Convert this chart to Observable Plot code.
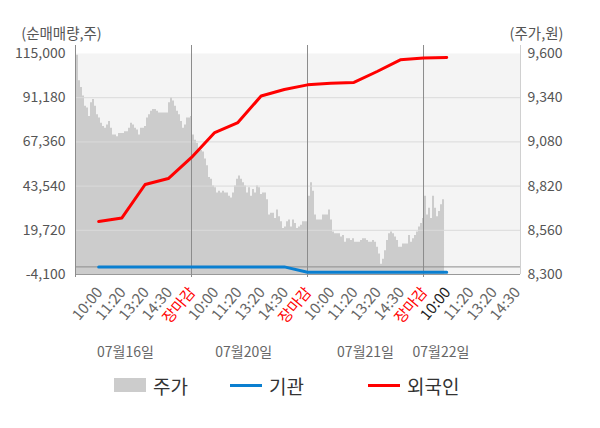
<!DOCTYPE html>
<html><head><meta charset="utf-8">
<script src="https://cdn.jsdelivr.net/npm/d3@7"></script>
<script src="https://cdn.jsdelivr.net/npm/@observablehq/plot@0.6"></script>
<style>
body{margin:0;background:#fff;font-family:"Noto Sans CJK KR","Noto Sans",sans-serif;}
#chart{width:600px;height:362px;}
#legend{position:relative;width:600px;height:66px;font-size:19px;color:#333;}
.item{position:absolute;top:12px;height:22px;display:flex;align-items:center;}
.sw{display:inline-block;margin-right:7px;}
</style></head><body>
<div id="chart"></div>
<div id="legend"></div>
<script>
const dayLabels = ["07월16일","07월20일","07월21일","07월22일"];
const slotLabels = ["10:00","11:20","13:20","14:30","장마감"];
const price16 = [9590,9440,9400,9350,9290,9280,9230,9310,9330,9290,9240,9220,9190,9170,9160,9180,9200,9160,9120,9120,9110,9130,9130,9130,9140,9140,9160,9190,9180,9160,9150,9120,9160,9160,9170,9220,9240,9260,9270,9270,9260,9250,9250,9250,9250,9250,9310,9340,9320,9290,9260,9240,9200,9160,9180,9220,9220,9230];
const price20 = [9120,9090,9070,9030,9030,9020,8980,8940,8870,8860,8820,8810,8780,8790,8780,8790,8780,8780,8760,8750,8780,8820,8860,8880,8860,8840,8820,8780,8810,8760,8800,8780,8820,8810,8770,8780,8780,8740,8650,8660,8660,8630,8680,8640,8610,8570,8580,8610,8620,8580,8620,8600,8570,8580,8590,8610,8610,8610];
const price21 = [8760,8840,8790,8650,8620,8620,8620,8650,8650,8650,8680,8620,8550,8540,8540,8540,8520,8530,8490,8510,8510,8500,8510,8490,8490,8490,8500,8510,8510,8500,8490,8490,8500,8490,8460,8420,8360,8390,8440,8500,8540,8550,8540,8520,8500,8460,8460,8480,8480,8480,8530,8490,8510,8530,8550,8580,8600,8630];
const price22 = [8760,8650,8690,8630,8760,8690,8640,8670,8710,8740,8740];
const foreignNet = [24500,26400,44400,47600,59000,72400,77800,92100,95600,98100,99000,99400,105300,111600,112600,112800];
const instNet = [0,0,0,0,0,0,0,0,0,-2900,-2900,-2900,-2900,-2900,-2900,-2900];
const leftTicks = [115000,91180,67360,43540,19720,-4100];
const rightTicks = [9600,9340,9080,8820,8560,8300];

const yMin = -4100, yMax = 115000, pMin = 8300, pMax = 9600;
const toY = p => yMin + (p - pMin) * (yMax - yMin) / (pMax - pMin);
const toP = y => Math.round(pMin + (y - yMin) * (pMax - pMin) / (yMax - yMin));
const perDay = 58;
const priceRows = [price16, price20, price21, price22].flatMap((arr, d) =>
  arr.map((p, i) => ({x: d + (i + 0.5) / perDay, y: toY(p)})));
const slotX = j => Math.floor(j / 5) + (j % 5 + 1) / 5;
const foreignRows = foreignNet.map((v, j) => ({x: slotX(j), y: v}));
const instRows = instNet.map((v, j) => ({x: slotX(j), y: v}));
const tickRows = [];
dayLabels.forEach((_, d) => slotLabels.forEach((lab, k) => {
  if (d === 3 && k === 4) return;
  tickRows.push({x: d + (k + 1) / 5, label: lab,
    color: k === 4 ? "#ff0000" : (d === 3 && k === 0 ? "#222222" : "#666666")});
}));
const datePos = [0.43, 1.45, 2.5, 3.15];
const xMax = 3.836;

const chart = Plot.plot({
  width: 600, height: 362,
  marginLeft: 75, marginRight: 80, marginTop: 53, marginBottom: 88,
  x: {domain: [0, xMax], axis: null},
  y: {domain: [yMin, yMax], axis: null},
  color: {type: "identity"},
  style: {fontFamily: '"Noto Sans CJK KR","Noto Sans",sans-serif', fontSize: "14px", background: "white", overflow: "visible"},
  marks: [
    Plot.frame({fill: "#f4f4f4", stroke: null}),
    Plot.areaY(priceRows, {x: "x", y1: () => yMin, y2: "y", fill: "#cccccc", curve: "step-after"}),
    Plot.ruleY(leftTicks.slice(1, 5), {stroke: "#dadada"}),
    Plot.ruleY([0], {stroke: "#8c8c8c"}),
    Plot.ruleY([yMin], {stroke: "#999999"}),
    Plot.ruleX([0, 1, 2, 3], {stroke: "#8c8c8c", insetTop: -8, insetBottom: -3}),
    Plot.ruleX([xMax], {stroke: "#d0d0d0", insetTop: -8}),
    Plot.line(instRows, {x: "x", y: "y", stroke: "#0a7fd0", strokeWidth: 3}),
    Plot.line(foreignRows, {x: "x", y: "y", stroke: "#ff0000", strokeWidth: 3}),
    Plot.axisY(leftTicks, {anchor: "left", tickSize: 0, tickPadding: 10, label: null, color: "#555", fontSize: 14,
      tickFormat: d => d.toLocaleString("en-US")}),
    Plot.axisY(leftTicks, {anchor: "right", tickSize: 0, tickPadding: 7, label: null, color: "#555", fontSize: 14,
      tickFormat: d => toP(d).toLocaleString("en-US")}),
    Plot.text(tickRows, {x: "x", y: () => yMin, text: "label", fill: "color", rotate: -50,
      textAnchor: "end", dx: 1, dy: 15, fontSize: 15}),
    Plot.text(dayLabels, {x: (d, i) => datePos[i], y: () => yMin, text: d => d, dy: 78, fill: "#666", fontSize: 14}),
    Plot.text(["(순매매량,주)"], {frameAnchor: "top-left", text: d => d, textAnchor: "middle", lineAnchor: "middle", dx: -14, dy: -19, fill: "#555", fontSize: 14.5}),
    Plot.text(["(주가,원)"], {frameAnchor: "top-right", text: d => d, textAnchor: "middle", lineAnchor: "middle", dx: 16, dy: -19, fill: "#555", fontSize: 14.5})
  ]
});
document.getElementById("chart").appendChild(chart);

const legendItems = [
  {label: "주가", left: 114, sw: "width:32px;height:14px;background:#cccccc;"},
  {label: "기관", left: 230, sw: "width:32px;height:3px;background:#0a7fd0;"},
  {label: "외국인", left: 368, sw: "width:32px;height:3px;background:#ff0000;"}
];
const lg = document.getElementById("legend");
legendItems.forEach(it => {
  const div = document.createElement("div");
  div.className = "item";
  div.style.left = it.left + "px";
  div.innerHTML = `<span class="sw" style="${it.sw}"></span><span>${it.label}</span>`;
  lg.appendChild(div);
});
</script>
</body></html>
